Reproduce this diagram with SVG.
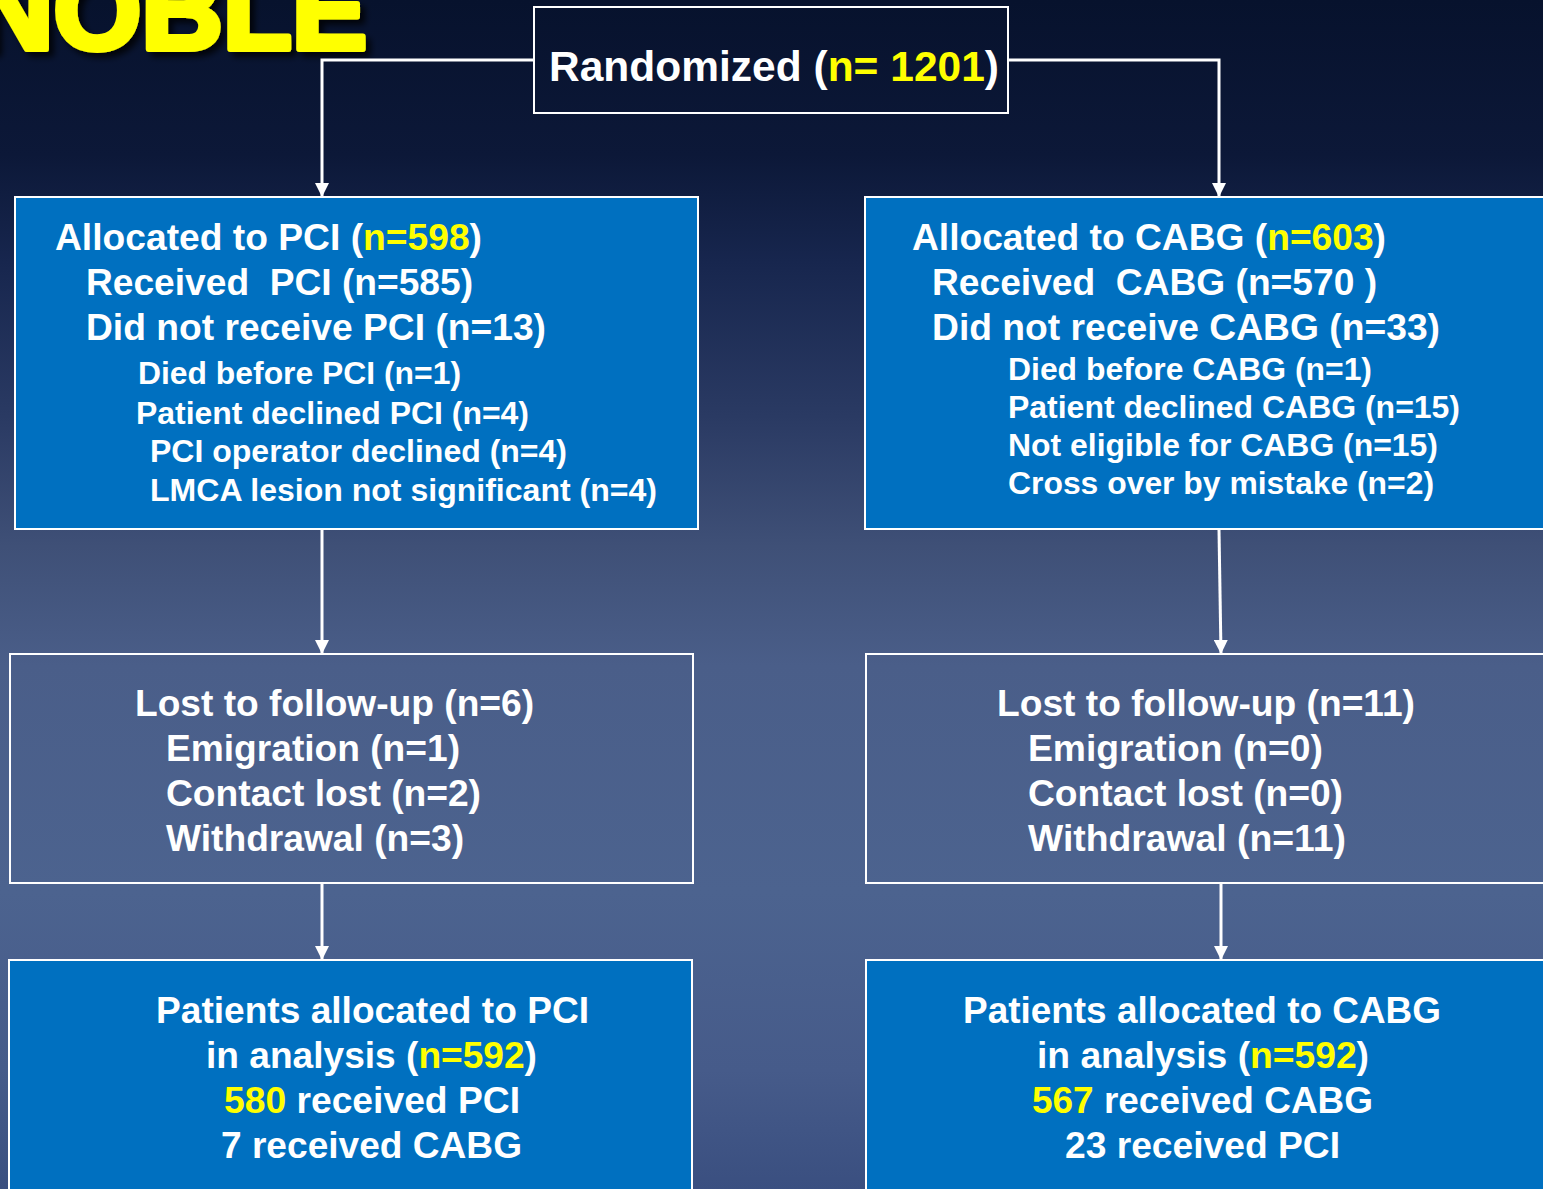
<svg xmlns="http://www.w3.org/2000/svg" width="1543" height="1189" viewBox="0 0 1543 1189">
<style>
text{font-family:"Liberation Sans",Arial,sans-serif;font-weight:bold;fill:#fff}
.y{fill:#ffff00}
.m{font-size:36px}
.s{font-size:31px}
.box{fill:#0070c0;stroke:#fff;stroke-width:2}
.clear{fill:none;stroke:#fff;stroke-width:2}
.conn{fill:none;stroke:#fff;stroke-width:3;marker-end:url(#ah)}
</style>
<defs>
<linearGradient id="bg" x1="0" y1="0" x2="0" y2="1">
<stop offset="0" stop-color="#07122d"/>
<stop offset="0.13" stop-color="#0c1838"/>
<stop offset="0.22" stop-color="#17264e"/>
<stop offset="0.35" stop-color="#2a3a63"/>
<stop offset="0.46" stop-color="#3f5077"/>
<stop offset="0.56" stop-color="#4a5e89"/>
<stop offset="0.75" stop-color="#4c638f"/>
<stop offset="0.9" stop-color="#465b8a"/>
<stop offset="1" stop-color="#3a4f80"/>
</linearGradient>
<marker id="ah" markerWidth="14" markerHeight="14" refX="14" refY="7" orient="auto" markerUnits="userSpaceOnUse">
<path d="M0,0 L14,7 L0,14 Z" fill="#fff"/>
</marker>
<filter id="sh" x="-10%" y="-30%" width="130%" height="160%">
<feDropShadow dx="5" dy="5" stdDeviation="3" flood-color="#000" flood-opacity="0.8"/>
</filter>
</defs>
<rect x="0" y="0" width="1543" height="1189" fill="url(#bg)"/>
<text x="-28" y="49" font-size="112" textLength="395" lengthAdjust="spacingAndGlyphs" style="fill:#ffff00;stroke:#ffff00;stroke-width:6;stroke-linejoin:round" filter="url(#sh)">NOBLE</text>
<g id="connectors">
<path class="conn" d="M533,60 H322 V197"/>
<path class="conn" d="M1008,60 H1219 V197"/>
<path class="conn" d="M322,530 V654"/>
<path class="conn" d="M1219,530 L1221,654"/>
<path class="conn" d="M322,884 V960"/>
<path class="conn" d="M1221,884 V960"/>
</g>
<g id="randomized">
<rect class="clear" x="534" y="7" width="474" height="106"/>
<text x="549" y="81" font-size="42" textLength="450" lengthAdjust="spacingAndGlyphs">Randomized (<tspan class="y">n= 1201</tspan>)</text>
</g>
<g id="alloc-pci">
<rect class="box" x="15" y="197" width="683" height="332"/>
<text class="m" x="55" y="250" textLength="427" lengthAdjust="spacingAndGlyphs">Allocated to PCI (<tspan class="y">n=598</tspan>)</text>
<text class="m" x="86" y="295" textLength="387" lengthAdjust="spacingAndGlyphs" xml:space="preserve">Received  PCI (n=585)</text>
<text class="m" x="86" y="340" textLength="460" lengthAdjust="spacingAndGlyphs">Did not receive PCI (n=13)</text>
<text class="s" x="138" y="384" textLength="323" lengthAdjust="spacingAndGlyphs">Died before PCI (n=1)</text>
<text class="s" x="136" y="424" textLength="393" lengthAdjust="spacingAndGlyphs">Patient declined PCI (n=4)</text>
<text class="s" x="150" y="462" textLength="417" lengthAdjust="spacingAndGlyphs">PCI operator declined (n=4)</text>
<text class="s" x="150" y="501" textLength="507" lengthAdjust="spacingAndGlyphs">LMCA lesion not significant (n=4)</text>
</g>
<g id="alloc-cabg">
<rect class="box" x="865" y="197" width="690" height="332"/>
<text class="m" x="912" y="250" textLength="474" lengthAdjust="spacingAndGlyphs">Allocated to CABG (<tspan class="y">n=603</tspan>)</text>
<text class="m" x="932" y="295" textLength="445" lengthAdjust="spacingAndGlyphs" xml:space="preserve">Received  CABG (n=570 )</text>
<text class="m" x="932" y="340" textLength="508" lengthAdjust="spacingAndGlyphs">Did not receive CABG (n=33)</text>
<text class="s" x="1008" y="380" textLength="364" lengthAdjust="spacingAndGlyphs">Died before CABG (n=1)</text>
<text class="s" x="1008" y="418" textLength="452" lengthAdjust="spacingAndGlyphs">Patient declined CABG (n=15)</text>
<text class="s" x="1008" y="456" textLength="430" lengthAdjust="spacingAndGlyphs">Not eligible for CABG (n=15)</text>
<text class="s" x="1008" y="494" textLength="426" lengthAdjust="spacingAndGlyphs">Cross over by mistake (n=2)</text>
</g>
<g id="lost-pci">
<rect class="clear" x="10" y="654" width="683" height="229"/>
<text class="m" x="135" y="716" textLength="399" lengthAdjust="spacingAndGlyphs">Lost to follow-up (n=6)</text>
<text class="m" x="166" y="761" textLength="294" lengthAdjust="spacingAndGlyphs">Emigration (n=1)</text>
<text class="m" x="166" y="806" textLength="315" lengthAdjust="spacingAndGlyphs">Contact lost (n=2)</text>
<text class="m" x="166" y="851" textLength="298" lengthAdjust="spacingAndGlyphs">Withdrawal (n=3)</text>
</g>
<g id="lost-cabg">
<rect class="clear" x="866" y="654" width="690" height="229"/>
<text class="m" x="997" y="716" textLength="418" lengthAdjust="spacingAndGlyphs">Lost to follow-up (n=11)</text>
<text class="m" x="1028" y="761" textLength="295" lengthAdjust="spacingAndGlyphs">Emigration (n=0)</text>
<text class="m" x="1028" y="806" textLength="315" lengthAdjust="spacingAndGlyphs">Contact lost (n=0)</text>
<text class="m" x="1028" y="851" textLength="318" lengthAdjust="spacingAndGlyphs">Withdrawal (n=11)</text>
</g>
<g id="analysis-pci">
<rect class="box" x="9" y="960" width="683" height="240"/>
<text class="m" x="156" y="1023" textLength="433" lengthAdjust="spacingAndGlyphs">Patients allocated to PCI</text>
<text class="m" x="206" y="1068" textLength="331" lengthAdjust="spacingAndGlyphs">in analysis (<tspan class="y">n=592</tspan>)</text>
<text class="m" x="224" y="1113" textLength="296" lengthAdjust="spacingAndGlyphs"><tspan class="y">580</tspan> received PCI</text>
<text class="m" x="221" y="1158" textLength="301" lengthAdjust="spacingAndGlyphs">7 received CABG</text>
</g>
<g id="analysis-cabg">
<rect class="box" x="866" y="960" width="690" height="240"/>
<text class="m" x="963" y="1023" textLength="478" lengthAdjust="spacingAndGlyphs">Patients allocated to CABG</text>
<text class="m" x="1037" y="1068" textLength="332" lengthAdjust="spacingAndGlyphs">in analysis (<tspan class="y">n=592</tspan>)</text>
<text class="m" x="1032" y="1113" textLength="341" lengthAdjust="spacingAndGlyphs"><tspan class="y">567</tspan> received CABG</text>
<text class="m" x="1065" y="1158" textLength="275" lengthAdjust="spacingAndGlyphs">23 received PCI</text>
</g>
</svg>
